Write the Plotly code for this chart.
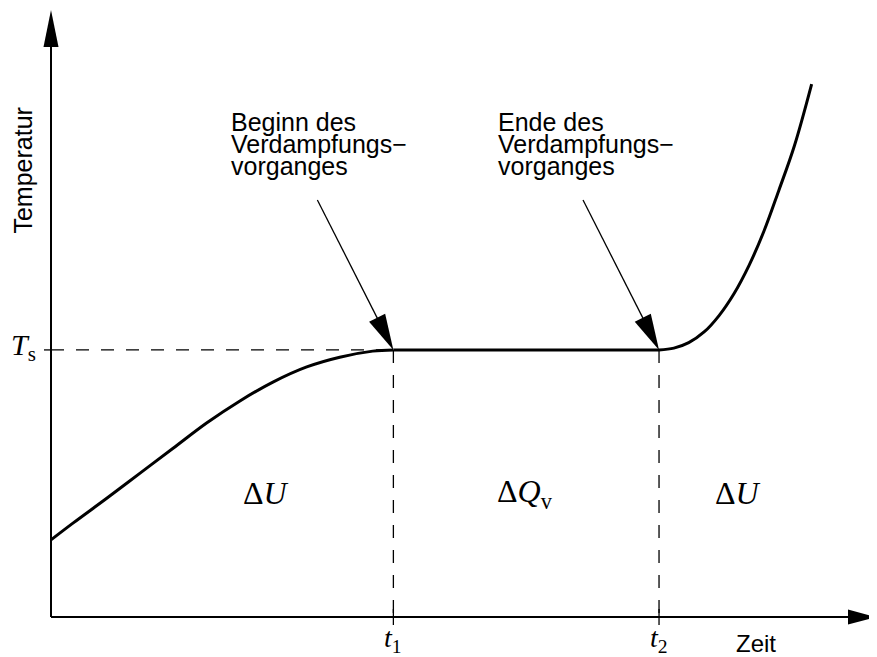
import numpy as np
import plotly.graph_objects as go

# ---------------- data ----------------
time = [0.0, 2.7, 6.8, 10.8, 14.8, 18.9, 22.9, 26.9, 31.0, 35.0, 39.0, 41.5,
        73.7, 75.5, 77.3, 79.2, 81.0, 82.8, 84.6, 86.4, 88.2, 90.1, 92.2]
temperature = [12.7, 15.5, 19.6, 23.7, 27.8, 32.0, 35.6, 38.7, 41.2, 42.8, 43.8, 44.0,
               44.0, 44.3, 45.2, 47.0, 49.7, 53.3, 57.9, 63.5, 70.2, 77.6, 87.8]
t_marks = [41.5, 73.7]          # t1, t2
t_labels = ["<i>t</i><sub>1</sub>", "<i>t</i><sub>2</sub>"]
T_s = 44.0
region_x = [26.1, 57.5, 83.3]
region_labels = ["\u0394<i>U</i>", "\u0394<i>Q</i><sub>v</sub>", "\u0394<i>U</i>"]
note_lines = [["Beginn des", "Verdampfungs\u2212", "vorganges"],
              ["Ende des", "Verdampfungs\u2212", "vorganges"]]
note_x = [21.6, 53.9]
note_y = [81.6, 77.9, 74.3]

# ---------------- layout geometry ----------------
W, H = 869, 649          # page adds 8px body margin
XR = [-43 / 8.25, 100 + 1 / 8.25]
YR = [-40 / 6.07, 100 + 2 / 6.07]
PXX = W / (XR[1] - XR[0])
PXY = H / (YR[1] - YR[0])

SANS = "Liberation Sans, Arial, sans-serif"
SERIF = "Liberation Serif, Times New Roman, serif"

fig = go.Figure()
i1 = time.index(t_marks[0])
i2 = time.index(t_marks[1])
segments = [(0, i1 + 1, "spline"), (i1, i2 + 1, "linear"), (i2, len(time), "spline")]
for a, b, shp in segments:
    fig.add_trace(go.Scatter(x=time[a:b], y=temperature[a:b], mode="lines",
                             line=dict(color="black", width=3, shape=shp, smoothing=1.0),
                             hoverinfo="skip"))

shapes = []
# axes
head_len_y, head_half_y = 37, 7.5
head_len_x, head_half_x = 28, 7.5
shapes.append(dict(type="line", xref="x", yref="y", x0=0, y0=0, x1=0, y1=100 - 20 / PXY,
                   line=dict(color="black", width=2)))
shapes.append(dict(type="line", xref="x", yref="y", x0=0, y0=0, x1=100 - 14 / PXX, y1=0,
                   line=dict(color="black", width=2)))
shapes.append(dict(type="path", xref="x", yref="y", xsizemode="pixel", ysizemode="pixel",
                   xanchor=0, yanchor=100,
                   path=f"M0,0L{-head_half_y},{-head_len_y}L{head_half_y},{-head_len_y}Z",
                   fillcolor="black", line=dict(width=0)))
shapes.append(dict(type="path", xref="x", yref="y", xsizemode="pixel", ysizemode="pixel",
                   xanchor=100, yanchor=0,
                   path=f"M0,0L{-head_len_x},{head_half_x}L{-head_len_x},{-head_half_x}Z",
                   fillcolor="black", line=dict(width=0)))

# dashed guides
dash = "13px,12px"
shapes.append(dict(type="line", xref="x", yref="y", x0=0, y0=T_s, x1=t_marks[0], y1=T_s,
                   line=dict(color="black", width=1.3, dash=dash)))
shapes.append(dict(type="line", xref="x", yref="y", x0=-7 / PXX, y0=T_s, x1=0, y1=T_s,
                   line=dict(color="black", width=1.3)))
for tm in t_marks:
    shapes.append(dict(type="line", xref="x", yref="y", x0=tm, y0=T_s, x1=tm, y1=0,
                       line=dict(color="black", width=1.3, dash=dash)))
    shapes.append(dict(type="line", xref="x", yref="y", x0=tm, y0=-8 / PXY, x1=tm, y1=8 / PXY,
                       line=dict(color="black", width=1.3)))

# pointer arrows (tail offset in pixels from tip, y up)
def pointer(tip_x, tip_y, dx, dy, head_len=36, head_half=9):
    L = np.hypot(dx, dy)
    ux, uy = dx / L, dy / L
    px, py = -uy, ux
    bx, by = ux * head_len, uy * head_len
    path = (f"M0,0L{bx + px * head_half:.2f},{by + py * head_half:.2f}"
            f"L{bx - px * head_half:.2f},{by - py * head_half:.2f}Z")
    return [
        dict(type="line", xref="x", yref="y", xsizemode="pixel", ysizemode="pixel",
             xanchor=tip_x, yanchor=tip_y, x0=dx, y0=dy, x1=bx * 0.6, y1=by * 0.6,
             line=dict(color="black", width=1.3)),
        dict(type="path", xref="x", yref="y", xsizemode="pixel", ysizemode="pixel",
             xanchor=tip_x, yanchor=tip_y, path=path, fillcolor="black", line=dict(width=0)),
    ]

for tm in t_marks:
    shapes += pointer(tm, T_s, -76, 150)

annotations = []
# axis titles
annotations.append(dict(x=-3.43, y=73.5, xref="x", yref="y", text="Temperatur", textangle=-90,
                        showarrow=False, font=dict(family=SANS, size=25, color="black"),
                        xanchor="center", yanchor="middle"))
annotations.append(dict(x=85.5, y=-4.3, xref="x", yref="y", text="Zeit", showarrow=False,
                        font=dict(family=SANS, size=24, color="black"),
                        xanchor="center", yanchor="middle"))
# T_s
annotations.append(dict(x=-1.6, y=T_s + 0.4, xref="x", yref="y", text="<i>T</i><sub>s</sub>",
                        showarrow=False, font=dict(family=SERIF, size=30, color="black"),
                        xanchor="right", yanchor="middle"))
# t1, t2
for tm, lab in zip(t_marks, t_labels):
    annotations.append(dict(x=tm, y=-3.7, xref="x", yref="y", text=lab, showarrow=False,
                            font=dict(family=SERIF, size=28, color="black"),
                            xanchor="center", yanchor="middle"))
# region labels
for rx, lab in zip(region_x, region_labels):
    annotations.append(dict(x=rx, y=20.4, xref="x", yref="y", text=lab, showarrow=False,
                            font=dict(family=SERIF, size=32, color="black"),
                            xanchor="center", yanchor="middle"))
# notes
for nx, lines in zip(note_x, note_lines):
    for ny, line in zip(note_y, lines):
        annotations.append(dict(x=nx, y=ny, xref="x", yref="y", text=line, showarrow=False,
                                font=dict(family=SANS, size=25, color="black"),
                                xanchor="left", yanchor="middle"))

fig.update_layout(
    width=W, height=H,
    margin=dict(l=0, r=0, t=0, b=0),
    paper_bgcolor="white", plot_bgcolor="white",
    showlegend=False,
    xaxis=dict(range=XR, visible=False, fixedrange=True),
    yaxis=dict(range=YR, visible=False, fixedrange=True),
    shapes=shapes,
    annotations=annotations,
)

fig.write_html("out.html")
